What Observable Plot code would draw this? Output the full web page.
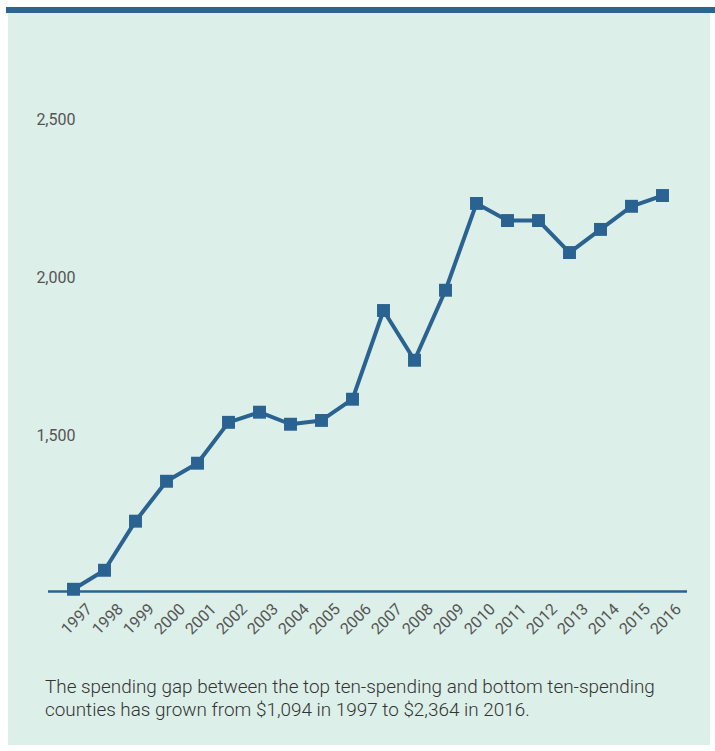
<!DOCTYPE html>
<html>
<head>
<meta charset="utf-8">
<script src="https://cdn.jsdelivr.net/npm/d3@7"></script>
<script src="https://cdn.jsdelivr.net/npm/@observablehq/plot@0.6"></script>
<style>
  html, body { margin: 0; padding: 0; background: #ffffff; }
  body { width: 715px; height: 751px; position: relative; overflow: hidden; font-family: Roboto, "Open Sans", sans-serif; }
  #bar { position: absolute; left: 6px; top: 7px; width: 709px; height: 6px; background: #2d6591; }
  #panel { position: absolute; left: 8px; top: 13px; width: 702px; height: 732px; background: #dcefe8; }
  #chart svg { display: block; }
  #caption { position: absolute; left: 37px; top: 662px; width: 670px; font-size: 18.9px; line-height: 23px; color: #333; font-family: Roboto, sans-serif; font-weight: 300; }
</style>
</head>
<body>
<div id="bar"></div>
<div id="panel">
  <div id="chart"></div>
  <div id="caption">The spending gap between the top ten-spending and bottom ten-spending counties has grown from $1,094 in 1997 to $2,364 in 2016.</div>
</div>
<script>
const years = ["1997","1998","1999","2000","2001","2002","2003","2004","2005","2006","2007","2008","2009","2010","2011","2012","2013","2014","2015","2016"];
const gap = [1017,1077,1232,1358,1415,1544,1576,1538,1550,1617,1897,1740,1961,2235,2181,2181,2080,2153,2226,2260];
const yTicks = [1500, 2000, 2500];
const yMin = [1010];

const data = years.map((y, i) => ({year: y, value: gap[i]}));
const blue = "#2a6391";

const chart = Plot.plot({
  width: 702,
  height: 628,
  marginLeft: 40,
  marginRight: 23,
  marginTop: 106,
  marginBottom: 50,
  style: { background: "transparent", fontFamily: "Roboto, sans-serif" },
  x: { type: "point", domain: years, padding: 0.5 },
  y: { domain: [1010, 2500] },
  marks: [
    Plot.axisY(yTicks, { anchor: "left", tickSize: 0, tickPadding: 0, dx: 27, fontSize: 16, fill: "#555", tickFormat: d3.format(","), label: null }),
    Plot.axisX({ tickSize: 0, tickRotate: -45, tickPadding: 4, dx: 16, dy: 11, fontSize: 16, fill: "#555", label: null }),
    Plot.ruleY(yMin, { stroke: blue, strokeWidth: 2.5 }),
    Plot.line(data, { x: "year", y: "value", stroke: blue, strokeWidth: 4 }),
    Plot.dot(data, { x: "year", y: "value", symbol: "square", r: 7.3, fill: blue, stroke: "none" })
  ]
});
document.getElementById("chart").appendChild(chart);
</script>
</body>
</html>
